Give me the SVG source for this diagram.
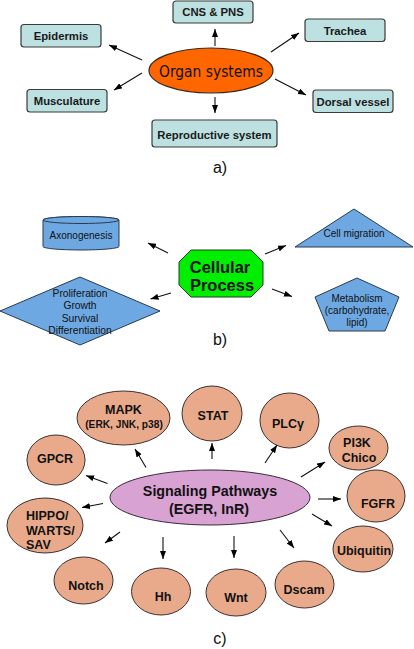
<svg xmlns="http://www.w3.org/2000/svg" width="414" height="649" viewBox="0 0 414 649">
<defs>
<marker id="ah" markerUnits="userSpaceOnUse" markerWidth="8" markerHeight="6" refX="8" refY="3" orient="auto">
<path d="M0,0 L8,3 L0,6 z" fill="#000"/>
</marker>
<style>
.box{fill:#bde0e1;stroke:#3a3a3a;stroke-width:1.2}
.ta{font-family:"Liberation Sans",Arial,sans-serif;font-weight:bold;font-size:11.3px;fill:#1a1a1a;text-anchor:middle}
.bl{fill:#6ea8e2;stroke:#2a3a50;stroke-width:1}
.tb{font-family:"Liberation Sans",Arial,sans-serif;font-size:10px;fill:#111;text-anchor:middle}
.sal{fill:#e9aa8c;stroke:#3a3030;stroke-width:1}
.tc{font-family:"Liberation Sans",Arial,sans-serif;font-weight:bold;font-size:12.5px;fill:#111;text-anchor:middle}
.ts{text-anchor:start}
.lab{font-family:"Liberation Sans",Arial,sans-serif;font-size:16px;fill:#111;text-anchor:middle}
.con line{stroke:#111;stroke-width:1.1;marker-end:url(#ah)}
</style>
</defs>
<rect width="414" height="649" fill="#fff"/>

<!-- Panel a -->
<g id="organ">
<ellipse cx="211" cy="70.5" rx="62" ry="22.5" fill="#ff6600" stroke="#3a2a20" stroke-width="1.2"/>
<text x="211" y="77" font-family="'DejaVu Sans',sans-serif" font-size="15" textLength="104" lengthAdjust="spacingAndGlyphs" text-anchor="middle" fill="#111">Organ systems</text>
</g>
<g id="cns"><rect class="box" x="173" y="1" width="80" height="22" rx="3"/><text class="ta" x="213" y="16">CNS &amp; PNS</text></g>
<g id="epidermis"><rect class="box" x="21" y="24.5" width="80" height="22.5" rx="3"/><text class="ta" x="61" y="40">Epidermis</text></g>
<g id="trachea"><rect class="box" x="305" y="19" width="80" height="22.5" rx="3"/><text class="ta" x="345" y="35">Trachea</text></g>
<g id="musculature"><rect class="box" x="27" y="89.5" width="80" height="22.5" rx="3"/><text class="ta" x="67" y="105">Musculature</text></g>
<g id="dorsal"><rect class="box" x="313" y="90" width="80" height="22.5" rx="3"/><text class="ta" x="353" y="106">Dorsal vessel</text></g>
<g id="reproductive"><rect class="box" x="152" y="120" width="125" height="27" rx="3"/><text class="ta" x="214.5" y="139">Reproductive system</text></g>
<text class="lab" x="220" y="173">a)</text>

<!-- Panel b -->
<g id="axonogenesis">
<path class="bl" d="M43,220 L43,246.5 A38,3.5 0 0,0 119,246.5 L119,220 A38,3.5 0 0,0 43,220 Z"/>
<ellipse class="bl" cx="81" cy="220" rx="38" ry="3.5"/>
<text class="tb" x="81" y="238.5">Axonogenesis</text>
</g>
<g id="cellmigration">
<polygon class="bl" points="354,209 413,247 295,247"/>
<text class="tb" x="354" y="236.5">Cell migration</text>
</g>
<g id="cellular">
<polygon points="191,250 251,250 263,262 263,285 251,297 191,297 179,285 179,262" fill="#00ee00" stroke="#204020" stroke-width="1"/>
<text x="220" y="273" font-family="'Liberation Sans',Arial,sans-serif" font-weight="bold" font-size="16.5" text-anchor="middle" fill="#111">Cellular</text>
<text x="222" y="291" font-family="'Liberation Sans',Arial,sans-serif" font-weight="bold" font-size="16.5" text-anchor="middle" fill="#111">Process</text>
</g>
<g id="proliferation">
<polygon class="bl" points="80,277 160,311 80,345 0,311"/>
<text class="tb" x="80" y="296.5" style="font-size:10.3px">Proliferation</text>
<text class="tb" x="80" y="309" style="font-size:10.3px">Growth</text>
<text class="tb" x="80" y="321.5" style="font-size:10.3px">Survival</text>
<text class="tb" x="80" y="334" style="font-size:10.3px">Differentiation</text>
</g>
<g id="metabolism">
<polygon class="bl" points="357,278 399,297 385,331 329,331 315,297"/>
<text class="tb" x="357" y="301.5">Metabolism</text>
<text class="tb" x="357" y="313.5">(carbohydrate,</text>
<text class="tb" x="357" y="325.5">lipid)</text>
</g>
<text class="lab" x="220" y="345">b)</text>

<!-- Panel c -->
<g id="signaling">
<ellipse cx="210" cy="497.5" rx="100" ry="27.5" fill="#d8a2d3" stroke="#3a2a3a" stroke-width="1"/>
<text x="210" y="496" font-family="'Liberation Sans',Arial,sans-serif" font-weight="bold" font-size="14.3" text-anchor="middle" fill="#111">Signaling Pathways</text>
<text x="209" y="514" font-family="'Liberation Sans',Arial,sans-serif" font-weight="bold" font-size="14.3" text-anchor="middle" fill="#111">(EGFR, InR)</text>
</g>
<g id="mapk"><ellipse class="sal" cx="123.5" cy="418" rx="46.5" ry="27"/><text class="tc" x="123.5" y="414">MAPK</text><text class="tc" x="124" y="428" style="font-size:10.2px">(ERK, JNK, p38)</text></g>
<g id="stat"><ellipse class="sal" cx="212" cy="413.5" rx="30" ry="27.5"/><text class="tc" x="213" y="420">STAT</text></g>
<g id="plcg"><ellipse class="sal" cx="289.5" cy="420.5" rx="29.5" ry="27.5"/><text class="tc" x="288" y="428">PLCγ</text></g>
<g id="gpcr"><ellipse class="sal" cx="56" cy="460" rx="29" ry="25"/><text class="tc" x="55" y="463">GPCR</text></g>
<g id="pi3k"><ellipse class="sal" cx="358.5" cy="448" rx="29.5" ry="22"/><text class="tc" x="357" y="447">PI3K</text><text class="tc" x="359" y="462">Chico</text></g>
<g id="fgfr"><ellipse class="sal" cx="376" cy="496" rx="29" ry="26"/><text class="tc" x="378" y="508">FGFR</text></g>
<g id="ubiquitin"><ellipse class="sal" cx="363" cy="549" rx="30" ry="23"/><text class="tc" x="364" y="555">Ubiquitin</text></g>
<g id="hippo"><ellipse class="sal" cx="45" cy="525.5" rx="38" ry="27.5"/>
<text class="tc ts" x="26" y="520">HIPPO/</text>
<text class="tc ts" x="26" y="535">WARTS/</text>
<text class="tc ts" x="26" y="549">SAV</text></g>
<g id="notch"><ellipse class="sal" cx="83.5" cy="580.5" rx="29.5" ry="23.5"/><text class="tc" x="86" y="590">Notch</text></g>
<g id="hh"><ellipse class="sal" cx="161" cy="591.5" rx="29.5" ry="23.5"/><text class="tc" x="163" y="601">Hh</text></g>
<g id="wnt"><ellipse class="sal" cx="236" cy="592.5" rx="30" ry="23.5"/><text class="tc" x="236" y="602">Wnt</text></g>
<g id="dscam"><ellipse class="sal" cx="304.5" cy="584.5" rx="29.5" ry="23.5"/><text class="tc" x="304" y="594">Dscam</text></g>
<text class="lab" x="220" y="644">c)</text>

<!-- Connectors -->
<g id="connectors" class="con">
<line x1="215" y1="46" x2="215" y2="29"/>
<line x1="142" y1="60" x2="109" y2="45"/>
<line x1="271" y1="52" x2="299" y2="33"/>
<line x1="142" y1="73" x2="114" y2="90"/>
<line x1="275" y1="79" x2="306" y2="95"/>
<line x1="215" y1="97" x2="215" y2="113"/>

<line x1="168" y1="253" x2="148" y2="243"/>
<line x1="171" y1="293" x2="150.5" y2="299"/>
<line x1="265" y1="254" x2="286" y2="245.5"/>
<line x1="272" y1="289" x2="292" y2="296.5"/>

<line x1="146" y1="467.5" x2="135" y2="449"/>
<line x1="212" y1="459" x2="212" y2="443"/>
<line x1="265" y1="463" x2="277" y2="445"/>
<line x1="301" y1="477" x2="325" y2="462"/>
<line x1="107.5" y1="483.5" x2="86" y2="475.5"/>
<line x1="318" y1="499" x2="341" y2="499"/>
<line x1="103" y1="503.5" x2="82" y2="507.5"/>
<line x1="312" y1="514" x2="332" y2="526"/>
<line x1="120" y1="532" x2="105" y2="543"/>
<line x1="163" y1="537" x2="163" y2="559"/>
<line x1="234" y1="536" x2="234" y2="558"/>
<line x1="280" y1="530" x2="294" y2="548"/>
</g>
</svg>
